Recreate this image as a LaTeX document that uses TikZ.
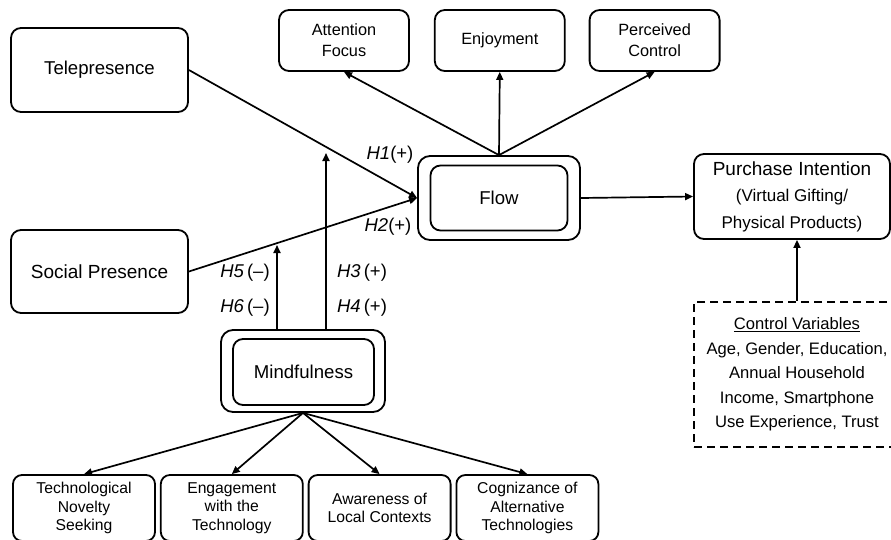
\documentclass[tikz,border=0pt]{standalone}
\usepackage{fontspec}
\setmainfont{Liberation Sans}
\usetikzlibrary{arrows.meta,positioning}

\begin{document}
\begin{tikzpicture}[
    x=1pt, y=-1pt,
    node distance=24pt,
    every node/.style={align=center,inner sep=0pt},
    box/.style={draw,rounded corners=10pt,line width=1.8pt,
                font=\fontsize{18.6}{22}\selectfont},
    topbox/.style={box,minimum width=130pt,minimum height=61pt,
                   font=\fontsize{16.3}{21}\selectfont},
    dimbox/.style={box,minimum width=142pt,minimum height=66pt,
                   rounded corners=9pt,font=\fontsize{15.7}{18.4}\selectfont},
    ctrlbox/.style={draw,line width=1.8pt,dash pattern=on 8pt off 5pt,
                    minimum width=206pt,minimum height=145pt,
                    font=\fontsize{16.6}{24.5}\selectfont},
    hyp/.style={font=\fontsize{18.5}{22}\selectfont},
    arrow/.style={-{Triangle[length=8pt,width=7pt]},line width=1.7pt}
]
\useasboundingbox (0,0) rectangle (891,539);

% antecedents
\node[box,minimum width=177pt,minimum height=84pt] (tele) at (99.5,70) {Telepresence};
\node[box,minimum width=177pt,minimum height=83pt,font=\fontsize{19}{22}\selectfont] (social) at (99.5,271.5) {Social Presence};

% flow and its dimensions
\node[box,minimum width=162pt,minimum height=84pt,rounded corners=12pt] (flow) at (499,198) {};
\node[box,minimum width=137pt,minimum height=65pt] (flowin) at (flow.center) {Flow};
\node[topbox] (attn) at (344,40.5) {Attention\\Focus};
\node[topbox,right=of attn] (enjoy) {Enjoyment};
\node[topbox,right=23pt of enjoy] (perc) {Perceived\\Control};

% outcome and controls
\node[box,minimum width=196pt,minimum height=85pt,font=\fontsize{17}{26.5}\selectfont] (purch) at (792,196.5)
    {{\fontsize{19}{26.5}\selectfont Purchase Intention}\\(Virtual Gifting/\\Physical Products)};
\node[ctrlbox] (ctrl) at (797,374.5)
    {\underline{Control Variables}\\Age, Gender, Education,\\Annual Household\\Income, Smartphone\\Use Experience, Trust};

% mindfulness and its dimensions
\node[box,minimum width=164pt,minimum height=82pt,rounded corners=12pt] (mind) at (303,371) {};
\node[box,minimum width=141pt,minimum height=66pt] (mindin) at (303.5,372) {Mindfulness};
\node[dimbox] (novel) at (84,508) {Technological\\Novelty\\Seeking};
\node[dimbox,right=4pt of novel] (engage) {Engagement\\with the\\Technology};
\node[dimbox,right=4pt of engage] (aware) {Awareness of\\Local Contexts};
\node[dimbox,right=4pt of aware] (cogn) {Cognizance of\\Alternative\\Technologies};

% moderation end points
\coordinate (h5end) at (277,245);
\coordinate (h3end) at (326,153);

\draw[arrow] (tele.east) -- (flow.west);
\draw[arrow] (social.east) -- (flow.west);
\draw[arrow] (mind.north -| h5end) -- (h5end);
\draw[arrow] (mind.north -| h3end) -- (h3end);
\draw[arrow] (flow.north) -- (attn.south);
\draw[arrow] (flow.north) -- (enjoy.south);
\draw[arrow] (flow.north) -- (perc.south);
\draw[arrow] (flow.east) -- (purch.west);
\draw[arrow] (ctrl.north) -- (ctrl.north |- purch.south);
\foreach \d in {novel,engage,aware,cogn}
    \draw[arrow] (mind.south) -- (\d.north);

% hypotheses
\node[hyp] (h1) at (390,155) {\textit{H1}(+)};
\node[hyp] (h2) at (388,227) {\textit{H2}(+)};
\node[hyp] (h5) at (245,273) {\textit{H5}\,(--)};
\node[hyp] (h6) at (245,308) {\textit{H6}\,(--)};
\node[hyp] (h3) at (362,273) {\textit{H3}\,(+)};
\node[hyp] (h4) at (362,308) {\textit{H4}\,(+)};
\end{tikzpicture}
\end{document}
